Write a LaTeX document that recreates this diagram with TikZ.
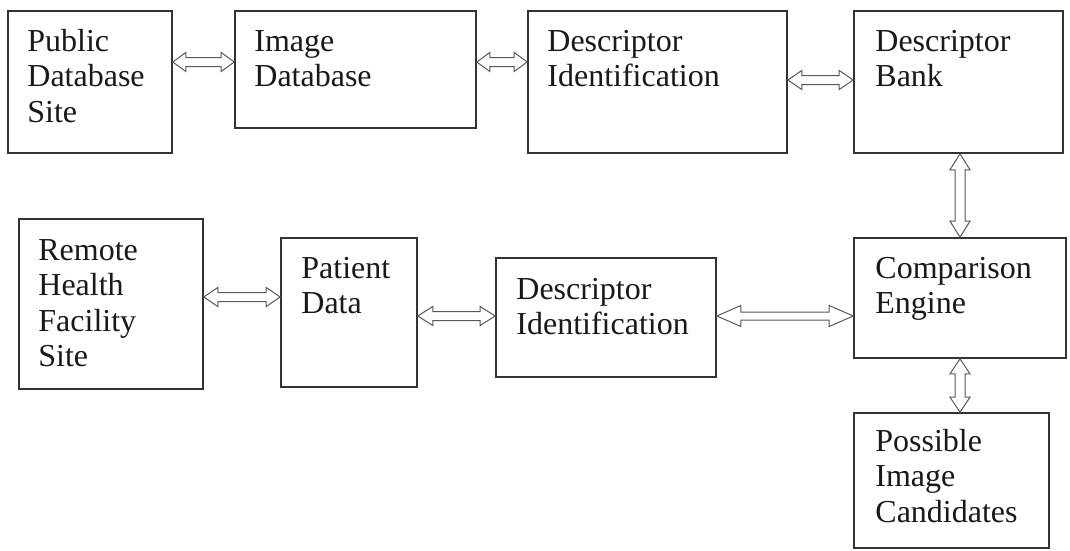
\documentclass[tikz,border=0pt]{standalone}
\usepackage{fontspec}
\setmainfont{Liberation Serif}
\usetikzlibrary{calc}
% horizontal double-outline arrow: #1 start, #2 end, #3 half shaft, #4 half head, #5 head length
\newcommand\myhdbl[5]{%
  \draw[arr] let \p1=(#1), \p2=(#2) in
    (\x1,\y1) -- (\x1+#5pt,\y1+#4pt) -- (\x1+#5pt,\y1+#3pt) -- (\x2-#5pt,\y1+#3pt)
    -- (\x2-#5pt,\y1+#4pt) -- (\x2,\y1) -- (\x2-#5pt,\y1-#4pt) -- (\x2-#5pt,\y1-#3pt)
    -- (\x1+#5pt,\y1-#3pt) -- (\x1+#5pt,\y1-#4pt) -- cycle;}
% vertical (start above end)
\newcommand\myvdbl[5]{%
  \draw[arr] let \p1=(#1), \p2=(#2) in
    (\x1,\y1) -- (\x1+#4pt,\y1-#5pt) -- (\x1+#3pt,\y1-#5pt) -- (\x1+#3pt,\y2+#5pt)
    -- (\x1+#4pt,\y2+#5pt) -- (\x1,\y2) -- (\x1-#4pt,\y2+#5pt) -- (\x1-#3pt,\y2+#5pt)
    -- (\x1-#3pt,\y1-#5pt) -- (\x1-#4pt,\y1-#5pt) -- cycle;}
\begin{document}
\begin{tikzpicture}[x=1pt,y=-1pt,
  box/.style={draw=black!80, line width=1.6pt, fill=white, inner sep=0pt},
  lbl/.style={anchor=north west, inner sep=0pt, align=left, text=black!90,
    font=\fontsize{32}{35.5}\selectfont},
  arr/.style={draw=black!65, line width=1pt, line join=miter, fill=white}
]
\useasboundingbox (0,0) rectangle (1070,550);
\fill[white] (0,0) rectangle (1070,550);
% boxes
\node[box, minimum width=164pt, minimum height=142pt] (pub) at (90,82) {};
\node[box, minimum width=241pt, minimum height=117pt] (img) at (355.5,69.5) {};
\node[box, minimum width=259pt, minimum height=142pt] (did1) at (657.5,82) {};
\node[box, minimum width=209pt, minimum height=142pt] (bank) at (958.5,82) {};
\node[box, minimum width=184pt, minimum height=170pt] (rem) at (111,304) {};
\node[box, minimum width=136pt, minimum height=149pt] (pat) at (349,312.5) {};
\node[box, minimum width=220pt, minimum height=119pt] (did2) at (606,317.5) {};
\node[box, minimum width=212pt, minimum height=120pt] (comp) at (960,298) {};
\node[box, minimum width=195pt, minimum height=135pt] (poss) at (951.5,480.5) {};
% labels
\node[lbl] (tpub) at ($(pub.north west)+(20,16)$) {\strut Public\\Database\\Site};
\node[lbl] (timg) at ($(img.north west)+(20,16)$) {\strut Image\\Database};
\node[lbl] (tdid1) at ($(did1.north west)+(20,16)$) {\strut Descriptor\\Identification};
\node[lbl] (tbank) at ($(bank.north west)+(22,16)$) {\strut Descriptor\\Bank};
\node[lbl] (trem) at ($(rem.north west)+(20,17)$) {\strut Remote\\Health\\Facility\\Site};
\node[lbl] (tpat) at ($(pat.north west)+(21,16)$) {\strut Patient\\Data};
\node[lbl] (tdid2) at ($(did2.north west)+(21,17)$) {\strut Descriptor\\Identification};
\node[lbl] (tcomp) at ($(comp.north west)+(22,16)$) {\strut Comparison\\Engine};
\node[lbl] (tposs) at ($(poss.north west)+(22,14)$) {\strut Possible\\Image\\Candidates};
% connectors
\coordinate (y1) at (0,62);
\coordinate (y2) at (0,80);
\coordinate (y3) at (0,297);
\coordinate (y4) at (0,316);
\coordinate (xv) at (960,0);
\myhdbl{pub.east |- y1}{img.west |- y1}{4.5}{9.5}{13}
\myhdbl{img.east |- y1}{did1.west |- y1}{4.5}{9.5}{13}
\myhdbl{did1.east |- y2}{bank.west |- y2}{4.5}{9.5}{14}
\myvdbl{bank.south -| xv}{comp.north -| xv}{5}{10}{16}
\myhdbl{rem.east |- y3}{pat.west |- y3}{4.5}{9.5}{14}
\myhdbl{pat.east |- y4}{did2.west |- y4}{4.5}{9.5}{15}
\myhdbl{did2.east |- y4}{comp.west |- y4}{4}{10.5}{24}
\myvdbl{comp.south -| xv}{poss.north -| xv}{5}{10}{15}
\end{tikzpicture}
\end{document}
